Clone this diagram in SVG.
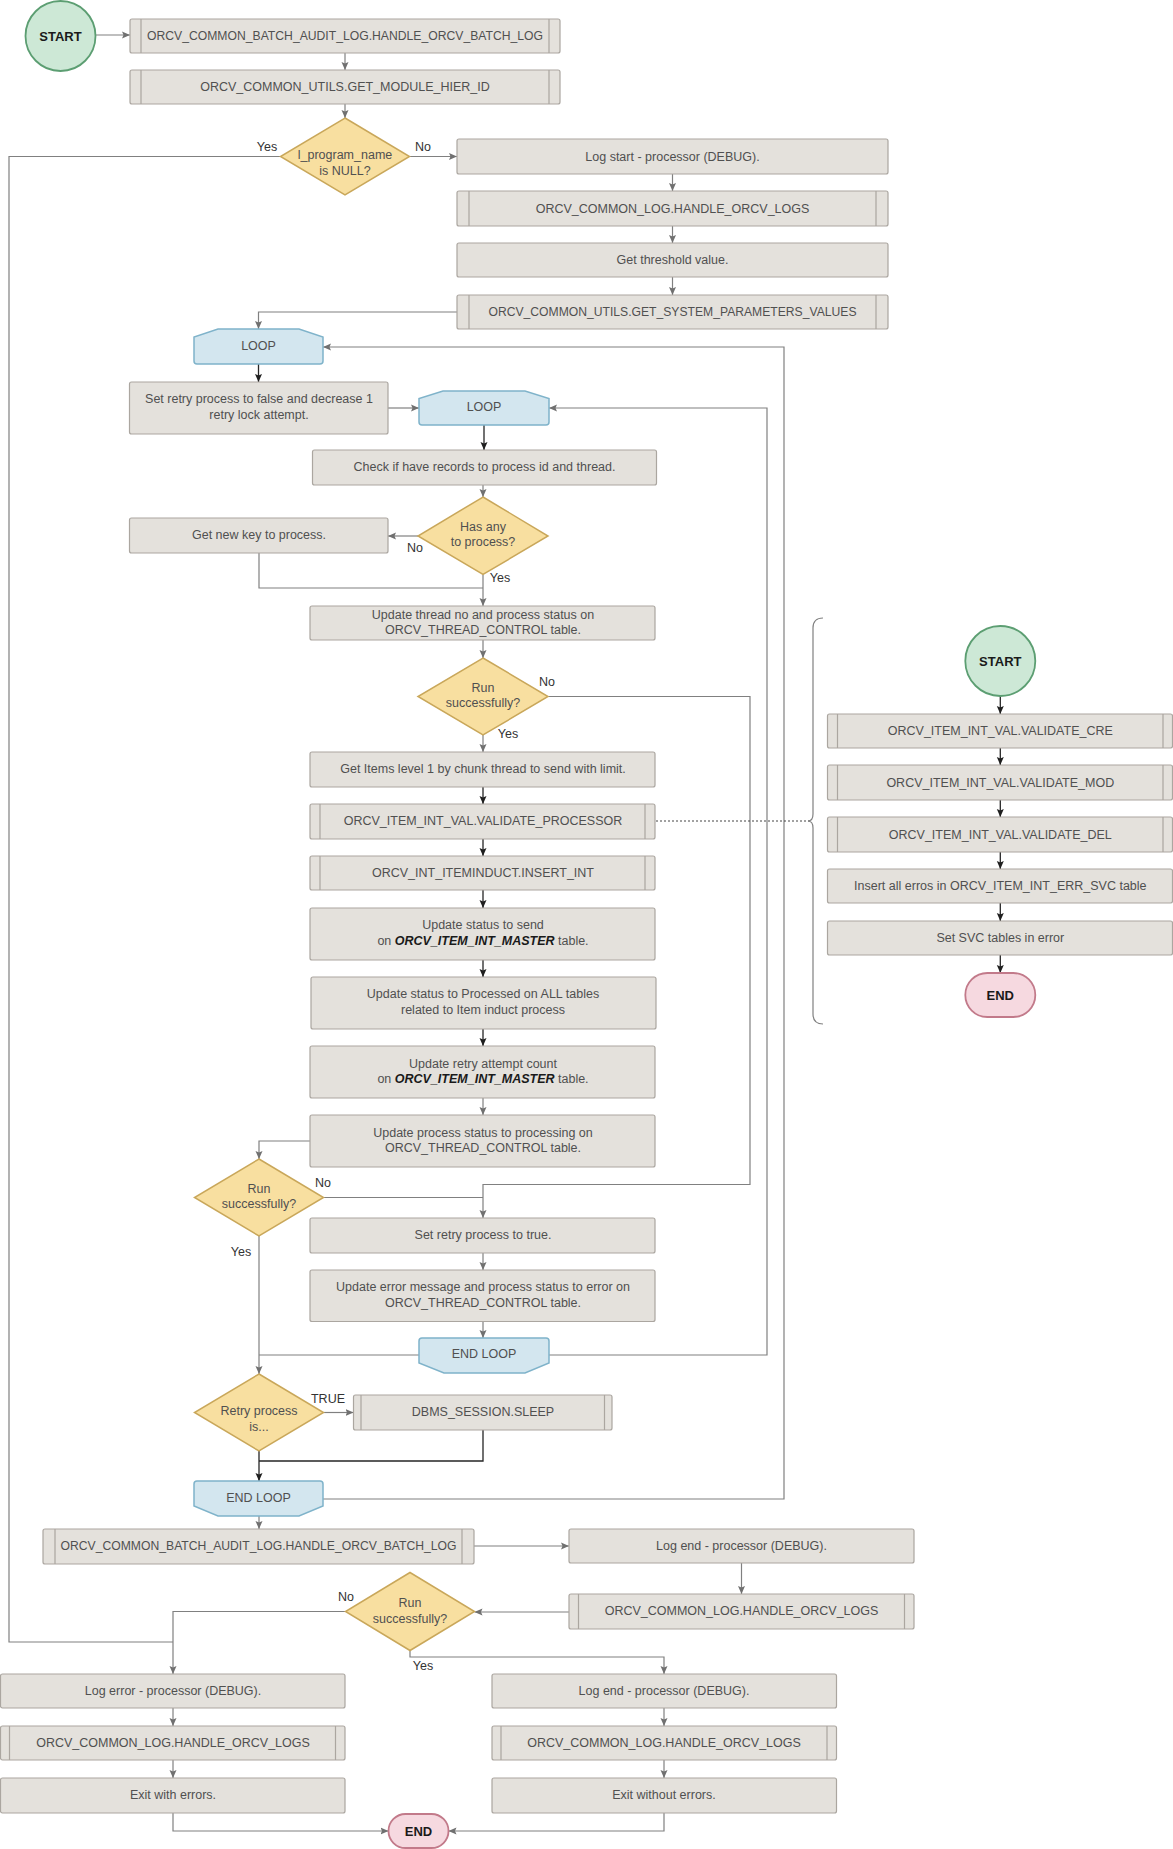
<svg xmlns="http://www.w3.org/2000/svg" width="1173" height="1849" viewBox="0 0 1173 1849">
<style>
.box{fill:#E4E1DC;stroke:#ABA6A0;stroke-width:1.2}
.bar{stroke:#ABA6A0;stroke-width:1.2;fill:none}
.dia{fill:#F8DFA0;stroke:#C9A75A;stroke-width:1.5}
.st{fill:#CDE8D6;stroke:#5C9E72;stroke-width:1.8}
.en{fill:#F6D9E0;stroke:#C27A8A;stroke-width:1.8}
.lp{fill:#D3E6EF;stroke:#7FB3CA;stroke-width:1.5}
.t{font-family:"Liberation Sans",Arial,sans-serif;font-size:12.5px;fill:#505050;text-anchor:middle;dominant-baseline:central}
.b{font-weight:bold;fill:#1a1a1a;font-size:13px}
.bi{font-weight:bold;font-style:italic;fill:#1a1a1a}
.lbl{font-family:"Liberation Sans",Arial,sans-serif;font-size:12.5px;fill:#333;text-anchor:middle;dominant-baseline:central}
.c{fill:none;stroke:#808080;stroke-width:1.2}
.cd{fill:none;stroke:#262626;stroke-width:1.3}
.cg{marker-end:url(#ag)}
.ck{marker-end:url(#ak)}
</style>
<defs>
<marker id="ag" markerUnits="userSpaceOnUse" markerWidth="8" markerHeight="8" refX="8" refY="4" orient="auto"><path d="M0,0.5 L8,4 L0,7.5 L1.5,4 Z" fill="#707070"/></marker>
<marker id="ak" markerUnits="userSpaceOnUse" markerWidth="8" markerHeight="8" refX="8" refY="4" orient="auto"><path d="M0,0.5 L8,4 L0,7.5 L1.5,4 Z" fill="#1f1f1f"/></marker>
</defs>

<g id="connectors">
<path class="c cg" d="M95.5,35 L130,35"/>
<path class="c cg" d="M345,53 L345,70"/>
<path class="c cg" d="M345,104 L345,118"/>
<path class="c cg" d="M409.5,156.5 L457,156.5"/>
<path class="c" d="M280.5,156.5 L9,156.5 L9,1642 L173,1642"/>
<path class="c cg" d="M672.5,174 L672.5,191"/>
<path class="c cg" d="M672.5,226 L672.5,243"/>
<path class="c cg" d="M672.5,277 L672.5,295"/>
<path class="c cg" d="M457,312 L258.5,312 L258.5,329"/>
<path class="cd ck" d="M258.5,364 L258.5,382"/>
<path class="c cg" d="M388,408 L419,408"/>
<path class="cd ck" d="M484,425 L484,450"/>
<path class="c cg" d="M483,485 L483,497"/>
<path class="c cg" d="M418,536 L388,536"/>
<path class="c" d="M259,553 L259,588 L483,588"/>
<path class="c cg" d="M483,574.5 L483,606"/>
<path class="c cg" d="M483,640 L483,658"/>
<path class="c cg" d="M548,696.5 L750,696.5 L750,1184.5 L483,1184.5 L483,1218"/>
<path class="c cg" d="M483,735 L483,752"/>
<path class="cd ck" d="M483,787 L483,804"/>
<path class="cd ck" d="M483,839 L483,856"/>
<path class="cd ck" d="M483,890 L483,908"/>
<path class="cd ck" d="M483,960 L483,977"/>
<path class="cd ck" d="M483,1029 L483,1046"/>
<path class="c cg" d="M483,1098 L483,1115"/>
<path class="c cg" d="M310,1141 L259,1141 L259,1159"/>
<path class="c" d="M323.5,1197.5 L483,1197.5"/>
<path class="c cg" d="M259,1236 L259,1374"/>
<path class="c cg" d="M483,1253 L483,1270"/>
<path class="c cg" d="M483,1321.5 L483,1338"/>
<path class="c" d="M419,1355 L259,1355"/>
<path class="c cg" d="M549,1355 L767,1355 L767,408 L549,408"/>
<path class="c cg" d="M323.5,1412.5 L353.5,1412.5"/>
<path class="cd" d="M483,1430 L483,1461 L259,1461"/>
<path class="cd ck" d="M259,1451 L259,1481"/>
<path class="c cg" d="M323,1499 L784,1499 L784,347 L323,347"/>
<path class="c cg" d="M259,1516 L259,1529"/>
<path class="c cg" d="M474,1546 L569,1546"/>
<path class="c cg" d="M741.5,1563 L741.5,1594"/>
<path class="c cg" d="M569,1612 L474.5,1612"/>
<path class="c cg" d="M345.5,1611.5 L173,1611.5 L173,1674"/>
<path class="c cg" d="M410,1650.5 L410,1657 L664,1657 L664,1674"/>
<path class="c cg" d="M173,1708 L173,1726"/>
<path class="c cg" d="M173,1760 L173,1778"/>
<path class="c cg" d="M173,1813 L173,1831 L388.5,1831"/>
<path class="c cg" d="M664,1708 L664,1726"/>
<path class="c cg" d="M664,1760 L664,1778"/>
<path class="c cg" d="M664,1813 L664,1831 L448.5,1831"/>
<path fill="none" stroke="#444" stroke-width="1" stroke-dasharray="2,2" d="M656,821 L810,821"/>
<path class="c" d="M823,618 Q813,618 813,628 L813,814 Q813,821 808,821 Q813,821 813,828 L813,1014 Q813,1024 823,1024"/>
<path class="cd ck" d="M1000.3,696 L1000.3,714"/>
<path class="cd ck" d="M1000.3,748 L1000.3,765"/>
<path class="cd ck" d="M1000.3,800 L1000.3,817"/>
<path class="cd ck" d="M1000.3,852 L1000.3,869"/>
<path class="cd ck" d="M1000.3,903 L1000.3,921"/>
<path class="cd ck" d="M1000.3,955 L1000.3,973"/>
</g>

<g id="labels">
<text class="lbl" x="267" y="147">Yes</text>
<text class="lbl" x="423" y="147">No</text>
<text class="lbl" x="415" y="548">No</text>
<text class="lbl" x="500" y="578">Yes</text>
<text class="lbl" x="547" y="682">No</text>
<text class="lbl" x="508" y="734">Yes</text>
<text class="lbl" x="323" y="1183">No</text>
<text class="lbl" x="241" y="1252">Yes</text>
<text class="lbl" x="328" y="1399">TRUE</text>
<text class="lbl" x="346" y="1597">No</text>
<text class="lbl" x="423" y="1666">Yes</text>
</g>

<g id="start1"><circle class="st" cx="60.5" cy="36" r="35"/><text class="t b" x="60.5" y="36">START</text></g>
<g id="n1"><rect class="box" x="130" y="19" width="430" height="34" rx="2"/><path class="bar" d="M141,19V53M549,19V53"/><text class="t" x="345" y="36" textLength="396" lengthAdjust="spacingAndGlyphs">ORCV_COMMON_BATCH_AUDIT_LOG.HANDLE_ORCV_BATCH_LOG</text></g>
<g id="n2"><rect class="box" x="130" y="70" width="430" height="34" rx="2"/><path class="bar" d="M141,70V104M549,70V104"/><text class="t" x="345" y="87">ORCV_COMMON_UTILS.GET_MODULE_HIER_ID</text></g>
<g id="d1"><polygon class="dia" points="345,118 409.5,156.5 345,195 280.5,156.5"/><text class="t" x="345" y="155">l_program_name</text><text class="t" x="345" y="170.5">is NULL?</text></g>
<g id="n3"><rect class="box" x="457" y="139" width="431" height="35" rx="2"/><text class="t" x="672.5" y="156.5">Log start - processor (DEBUG).</text></g>
<g id="n4"><rect class="box" x="457" y="191" width="431" height="35" rx="2"/><path class="bar" d="M469,191V226M876,191V226"/><text class="t" x="672.5" y="208.5">ORCV_COMMON_LOG.HANDLE_ORCV_LOGS</text></g>
<g id="n5"><rect class="box" x="457" y="243" width="431" height="34" rx="2"/><text class="t" x="672.5" y="260">Get threshold value.</text></g>
<g id="n6"><rect class="box" x="457" y="295" width="431" height="34" rx="2"/><path class="bar" d="M469,295V329M876,295V329"/><text class="t" x="672.5" y="312" textLength="368" lengthAdjust="spacingAndGlyphs">ORCV_COMMON_UTILS.GET_SYSTEM_PARAMETERS_VALUES</text></g>
<g id="loop1"><path class="lp" d="M218,329 L299,329 L323,337 L323,361 Q323,364 320,364 L197,364 Q194,364 194,361 L194,337 Z"/><text class="t" x="258.5" y="346">LOOP</text></g>
<g id="n7"><rect class="box" x="129.5" y="382" width="258.5" height="52" rx="2"/><text class="t" x="259" y="399">Set retry process to false and decrease 1</text><text class="t" x="259" y="415">retry lock attempt.</text></g>
<g id="loop2"><path class="lp" d="M443,391 L525,391 L549,398.5 L549,422 Q549,425 546,425 L422,425 Q419,425 419,422 L419,398.5 Z"/><text class="t" x="484" y="407">LOOP</text></g>
<g id="n8"><rect class="box" x="312.5" y="450" width="344" height="35" rx="2"/><text class="t" x="484.5" y="467">Check if have records to process id and thread.</text></g>
<g id="d2"><polygon class="dia" points="483,497 548,536 483,574.5 418,536"/><text class="t" x="483" y="527">Has any</text><text class="t" x="483" y="542">to process?</text></g>
<g id="n9"><rect class="box" x="129.5" y="518" width="258.5" height="35" rx="2"/><text class="t" x="259" y="535">Get new key to process.</text></g>
<g id="n10"><rect class="box" x="310" y="606" width="345" height="34" rx="2"/><text class="t" x="483" y="614.5">Update thread no and process status on</text><text class="t" x="483" y="630">ORCV_THREAD_CONTROL table.</text></g>
<g id="d3"><polygon class="dia" points="483,658 548,696.5 483,735 418,696.5"/><text class="t" x="483" y="687.5">Run</text><text class="t" x="483" y="703">successfully?</text></g>
<g id="n11"><rect class="box" x="310" y="752" width="345" height="35" rx="2"/><text class="t" x="483" y="769">Get Items level 1 by chunk thread to send with limit.</text></g>
<g id="n12"><rect class="box" x="310" y="804" width="345" height="35" rx="2"/><path class="bar" d="M320,804V839M645,804V839"/><text class="t" x="483" y="821">ORCV_ITEM_INT_VAL.VALIDATE_PROCESSOR</text></g>
<g id="n13"><rect class="box" x="310" y="856" width="345" height="34" rx="2"/><path class="bar" d="M320,856V890M645,856V890"/><text class="t" x="483" y="873">ORCV_INT_ITEMINDUCT.INSERT_INT</text></g>
<g id="n14"><rect class="box" x="310" y="908" width="345" height="52" rx="2"/><text class="t" x="483" y="925">Update status to send</text><text class="t" x="483" y="940.5">on <tspan class="bi">ORCV_ITEM_INT_MASTER</tspan> table.</text></g>
<g id="n15"><rect class="box" x="311" y="977" width="345" height="52" rx="2"/><text class="t" x="483" y="994">Update status to Processed on ALL tables</text><text class="t" x="483" y="1009.5">related to Item induct process</text></g>
<g id="n16"><rect class="box" x="310" y="1046" width="345" height="52" rx="2"/><text class="t" x="483" y="1063.5">Update retry attempt count</text><text class="t" x="483" y="1079">on <tspan class="bi">ORCV_ITEM_INT_MASTER</tspan> table.</text></g>
<g id="n17"><rect class="box" x="310" y="1115" width="345" height="52" rx="2"/><text class="t" x="483" y="1132.5">Update process status to processing on</text><text class="t" x="483" y="1148">ORCV_THREAD_CONTROL table.</text></g>
<g id="d4"><polygon class="dia" points="259,1159 323.5,1197.5 259,1236 194.5,1197.5"/><text class="t" x="259" y="1188.5">Run</text><text class="t" x="259" y="1204">successfully?</text></g>
<g id="n18"><rect class="box" x="310" y="1218" width="345" height="35" rx="2"/><text class="t" x="483" y="1235">Set retry process to true.</text></g>
<g id="n19"><rect class="box" x="310" y="1270" width="345" height="51.5" rx="2"/><text class="t" x="483" y="1287">Update error message and process status to error on</text><text class="t" x="483" y="1302.5">ORCV_THREAD_CONTROL table.</text></g>
<g id="endloop1"><path class="lp" d="M422,1338 L546,1338 Q549,1338 549,1341 L549,1363 L525,1373 L444,1373 L419,1363 L419,1341 Q419,1338 422,1338 Z"/><text class="t" x="484" y="1354">END LOOP</text></g>
<g id="d5"><polygon class="dia" points="259,1374 323.5,1412.5 259,1451 194.5,1412.5"/><text class="t" x="259" y="1411">Retry process</text><text class="t" x="259" y="1427">is...</text></g>
<g id="n20"><rect class="box" x="353.5" y="1395" width="258.5" height="35" rx="2"/><path class="bar" d="M361,1395V1430M604.5,1395V1430"/><text class="t" x="483" y="1412">DBMS_SESSION.SLEEP</text></g>
<g id="endloop2"><path class="lp" d="M197,1481 L320,1481 Q323,1481 323,1484 L323,1506 L299,1516 L218,1516 L194,1506 L194,1484 Q194,1481 197,1481 Z"/><text class="t" x="258.5" y="1498">END LOOP</text></g>
<g id="n21"><rect class="box" x="43" y="1529" width="431" height="35" rx="2"/><path class="bar" d="M55,1529V1564M462,1529V1564"/><text class="t" x="258.5" y="1546" textLength="396" lengthAdjust="spacingAndGlyphs">ORCV_COMMON_BATCH_AUDIT_LOG.HANDLE_ORCV_BATCH_LOG</text></g>
<g id="n22"><rect class="box" x="569" y="1529" width="345" height="34" rx="2"/><text class="t" x="741.5" y="1546">Log end - processor (DEBUG).</text></g>
<g id="n23"><rect class="box" x="569" y="1594" width="345" height="35" rx="2"/><path class="bar" d="M578.5,1594V1629M904.5,1594V1629"/><text class="t" x="741.5" y="1611">ORCV_COMMON_LOG.HANDLE_ORCV_LOGS</text></g>
<g id="d6"><polygon class="dia" points="410,1572.5 474.5,1611.5 410,1650.5 345.5,1611.5"/><text class="t" x="410" y="1603">Run</text><text class="t" x="410" y="1618.5">successfully?</text></g>
<g id="n24"><rect class="box" x="0.5" y="1674" width="344.5" height="34" rx="2"/><text class="t" x="173" y="1691">Log error - processor (DEBUG).</text></g>
<g id="n25"><rect class="box" x="0.5" y="1726" width="344.5" height="34" rx="2"/><path class="bar" d="M9.5,1726V1760M335.5,1726V1760"/><text class="t" x="173" y="1743">ORCV_COMMON_LOG.HANDLE_ORCV_LOGS</text></g>
<g id="n26"><rect class="box" x="0.5" y="1778" width="344.5" height="35" rx="2"/><text class="t" x="173" y="1795">Exit with errors.</text></g>
<g id="n27"><rect class="box" x="492" y="1674" width="344.5" height="34" rx="2"/><text class="t" x="664" y="1691">Log end - processor (DEBUG).</text></g>
<g id="n28"><rect class="box" x="492" y="1726" width="344.5" height="34" rx="2"/><path class="bar" d="M501,1726V1760M827,1726V1760"/><text class="t" x="664" y="1743">ORCV_COMMON_LOG.HANDLE_ORCV_LOGS</text></g>
<g id="n29"><rect class="box" x="492" y="1778" width="344.5" height="35" rx="2"/><text class="t" x="664" y="1795">Exit without errors.</text></g>
<g id="end1"><rect class="en" x="388.5" y="1814" width="60" height="34" rx="17"/><text class="t b" x="418.5" y="1831">END</text></g>

<g id="start2"><circle class="st" cx="1000.3" cy="661" r="35"/><text class="t b" x="1000.3" y="661">START</text></g>
<g id="s1"><rect class="box" x="827.5" y="714" width="345" height="34" rx="2"/><path class="bar" d="M837.5,714V748M1163,714V748"/><text class="t" x="1000.3" y="730.5">ORCV_ITEM_INT_VAL.VALIDATE_CRE</text></g>
<g id="s2"><rect class="box" x="827.5" y="765" width="345" height="35" rx="2"/><path class="bar" d="M837.5,765V800M1163,765V800"/><text class="t" x="1000.3" y="782.5">ORCV_ITEM_INT_VAL.VALIDATE_MOD</text></g>
<g id="s3"><rect class="box" x="827.5" y="817" width="345" height="35" rx="2"/><path class="bar" d="M837.5,817V852M1163,817V852"/><text class="t" x="1000.3" y="834.5">ORCV_ITEM_INT_VAL.VALIDATE_DEL</text></g>
<g id="s4"><rect class="box" x="827.5" y="869" width="345" height="34" rx="2"/><text class="t" x="1000.3" y="886">Insert all erros in ORCV_ITEM_INT_ERR_SVC table</text></g>
<g id="s5"><rect class="box" x="827.5" y="921" width="345" height="34" rx="2"/><text class="t" x="1000.3" y="938">Set SVC tables in error</text></g>
<g id="end2"><rect class="en" x="965.3" y="973" width="70" height="44" rx="22"/><text class="t b" x="1000.3" y="995">END</text></g>
</svg>
